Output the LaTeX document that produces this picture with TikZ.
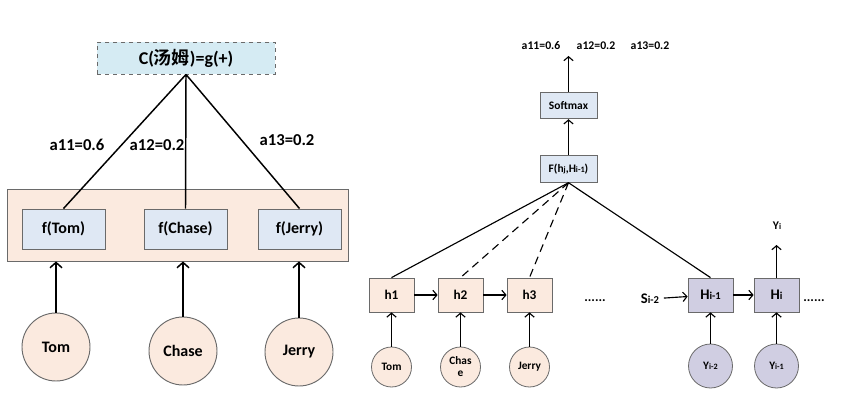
\documentclass[tikz,border=0pt]{standalone}
\usepackage{fontspec}
\setmainfont{Carlito}
\newfontfamily\cjk{Noto Sans CJK SC}[BoldFont={Noto Sans CJK SC Bold}]
\usetikzlibrary{positioning, arrows, arrows.meta, calc}
\definecolor{peach}{HTML}{FBEADF}
\definecolor{paleblue}{HTML}{D5EBF3}
\definecolor{cellblue}{HTML}{DFE8F4}
\definecolor{lilac}{HTML}{D0CEE2}
\definecolor{edgegray}{HTML}{6A6A6A}
\makeatletter
\newcommand\idx[1]{{\fontsize{\strip@pt\dimexpr\f@size pt*72/100\relax}{1}\selectfont #1}}
\makeatother
\tikzset{
  attention/.style={
	x=0.75pt, y=-0.75pt, % one unit is one pixel of the reference
	node distance=51.75pt, % distance between the h cells
  },
  gbox/.style={draw=edgegray, dashed, line width=0.7pt, fill=paleblue, minimum width=133.5pt, minimum height=24pt, font=\bfseries\fontsize{13.5}{15}\selectfont},
  pool/.style={draw=edgegray, line width=0.7pt, fill=peach, minimum width=255.75pt, minimum height=54pt},
  fcell/.style={draw=edgegray, line width=0.7pt, fill=cellblue, minimum width=62.25pt, minimum height=30pt, font=\bfseries\fontsize{12}{14}\selectfont},
  word/.style={circle, draw=edgegray, line width=0.7pt, fill=peach, minimum size=51pt, inner sep=0pt, font=\bfseries\fontsize{12}{14}\selectfont},
  weight/.style={font=\bfseries\fontsize{12.5}{14}\selectfont},
  wire/.style={line width=1.1pt, >={Straight Barb[length=4pt, width=9pt]}}, % open arrow heads
  cell/.style={draw=edgegray, line width=0.6pt, fill=cellblue, minimum width=42.75pt, minimum height=20pt, inner sep=1pt, font=\bfseries\fontsize{8.6}{10}\selectfont},
  hcell/.style={draw=edgegray, line width=0.6pt, fill=peach, minimum width=33.75pt, minimum height=25.5pt, font=\bfseries\fontsize{10}{12}\selectfont},
  dcell/.style={hcell, fill=lilac, font=\bfseries\fontsize{11}{12}\selectfont},
  token/.style={circle, draw=edgegray, line width=0.6pt, fill=peach, minimum size=30pt, inner sep=0pt, align=center, font=\bfseries\fontsize{8.5}{9}\selectfont},
  dtoken/.style={token, fill=lilac, minimum size=33pt},
  small/.style={font=\bfseries\fontsize{8.8}{10}\selectfont},
  dots/.style={anchor=base, font=\bfseries\fontsize{10}{12}\selectfont},
  thin wire/.style={line width=0.85pt, >={Straight Barb[length=3pt, width=7pt]}},
}
\begin{document}
\begin{tikzpicture}[attention]
\useasboundingbox (0,0) rectangle (841,402);
% left: weighted sum of the word encodings
\node[gbox] (g) at (186,58) {C({\cjk\bfseries 汤姆})=g(+)};
\node[pool] (pool) at (177.5,225) {};
\node[fcell] (ftom) at (63.5,229) {f(Tom)};
\node[fcell] (fchase) at (185.5,229) {f(Chase)};
\node[fcell] (fjerry) at (299.5,229) {f(Jerry)};
\node[word] (tom) at (56,347) {Tom};
\node[word] (chase) at (183,351) {Chase};
\node[word] (jerry) at (299,352) {Jerry};
\node[weight] (w11) at (77,145) {a11=0.6};
\node[weight] (w12) at (157,145) {a12=0.2};
\node[weight] (w13) at (287,140) {a13=0.2};

\draw[wire] (g.south) -- (ftom.north)
	(g.south) -- (fchase.north)
	(g.south) -- (fjerry.north);
\draw[wire, ->] (tom) -- (tom |- pool.south);
\draw[wire, ->] (chase) -- (chase |- pool.south);
\draw[wire, ->] (jerry) -- (jerry |- pool.south);

% right: scores from the encoder states
\node[small] (r11) at (541,46) {a11=0.6};
\node[small] (r12) at (596,46) {a12=0.2};
\node[small] (r13) at (650,46) {a13=0.2};
\coordinate (out) at (568.5,56);
\node[cell] (soft) at (568.5,105.5) {Softmax};
\node[cell] (score) at (568.5,169) {F(h\idx{j},H\idx{i-1})};

\node[hcell] (h1) at (391.5,295) {h1};
\node[hcell, right of=h1] (h2) {h2};
\node[hcell, right of=h2] (h3) {h3};
\node[token] (xtom) at (391.5,367) {Tom};
\node[token] (xchase) at (460.5,367) {Chas\\e};
\node[token] (xjerry) at (529.5,367) {Jerry};
\node[dots] (gap1) at (595,301) {......};

\node[small, font=\bfseries\fontsize{11}{12}\selectfont] (s) at (650,299) {S\idx{i-2}};
\node[dcell] (hprev) at (710.5,295) {H\idx{i-1}};
\node[dcell, node distance=49.5pt, right of=hprev] (hcur) {H\idx{i}};
\node[dots] (gap2) at (814,301) {......};
\node[dtoken] (yprev2) at (710.5,366) {Y\idx{i-2}};
\node[dtoken] (yprev1) at (776.5,366) {Y\idx{i-1}};
\coordinate (yout) at (776.5,245);
\node[small] (ylab) at (777,226) {Y\idx{i}};

\draw[thin wire, ->] (soft) -- (out);
\draw[thin wire, ->] (score) -- (soft);
\draw[thin wire] (score.south) -- (h1.north)
	(score.south) -- (hprev.north);
\draw[thin wire, dashed, dash pattern=on 6pt off 4pt] (score.south) -- (h2.north)
	(score.south) -- (h3.north);
\draw[thin wire, ->] (h1) -- (h2);
\draw[thin wire, ->] (h2) -- (h3);
\draw[thin wire, ->] (s) -- (hprev);
\draw[thin wire, ->] (hprev) -- (hcur);
\draw[thin wire, ->] (hcur) -- (yout);
\draw[thin wire, ->] (xtom) -- (h1);
\draw[thin wire, ->] (xchase) -- (h2);
\draw[thin wire, ->] (xjerry) -- (h3);
\draw[thin wire, ->] (yprev2) -- (hprev);
\draw[thin wire, ->] (yprev1) -- (hcur);
\end{tikzpicture}
\end{document}
